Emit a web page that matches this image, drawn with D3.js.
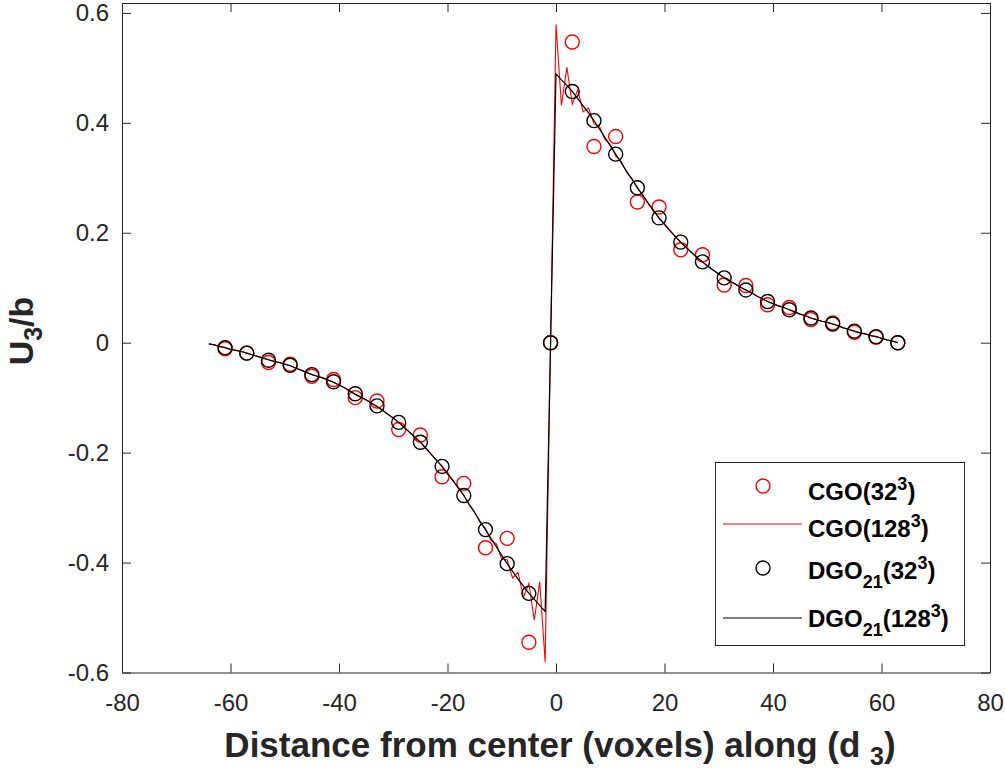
<!DOCTYPE html>
<html><head><meta charset="utf-8">
<script src="https://cdn.jsdelivr.net/npm/d3@7"></script>
<style>body{margin:0;background:#fff} svg{display:block} text{font-family:"Liberation Sans",Arial,Helvetica,sans-serif}</style>
</head><body><svg id="c" width="1005" height="772"></svg>
<script>
// ---- data ----
const xCoarse = [-61,-57,-53,-49,-45,-41,-37,-33,-29,-25,-21,-17,-13,-9,-5,-1,3,7,11,15,19,23,27,31,35,39,43,47,51,55,59,63];
const cgoCoarse = [-0.011,-0.019,-0.036,-0.039,-0.061,-0.067,-0.100,-0.106,-0.158,-0.168,-0.244,-0.256,-0.373,-0.356,-0.545,0,
  0.547,0.357,0.375,0.256,0.247,0.169,0.160,0.105,0.104,0.069,0.064,0.042,0.036,0.019,0.010,0.000];
const dgoCoarse = [-0.009,-0.019,-0.032,-0.041,-0.058,-0.071,-0.093,-0.115,-0.145,-0.181,-0.225,-0.278,-0.340,-0.402,-0.456,0,
  0.457,0.404,0.343,0.282,0.227,0.183,0.147,0.118,0.096,0.075,0.060,0.045,0.034,0.021,0.011,0.000];

const xFine = [-64,-63,-62,-61,-60,-59,-58,-57,-56,-55,-54,-53,-52,-51,-50,-49,-48,-47,-46,-45,
  -44,-43,-42,-41,-40,-39,-38,-37,-36,-35,-34,-33,-32,-31,-30,-29,-28,-27,-26,-25,
  -24,-23,-22,-21,-20,-19,-18,-17,-16,-15,-14,-13,-12,-11,-10,-9,-8,-7,-6,-5,
  -4,-3,-2,-1,
  0,1,2,3,4,5,6,7,8,9,10,11,12,13,14,15,16,17,18,19,
  20,21,22,23,24,25,26,27,28,29,30,31,32,33,34,35,36,37,38,39,
  40,41,42,43,44,45,46,47,48,49,50,51,52,53,54,55,56,57,58,59,60,61,62,63];
const dgoFine = [-0.002,-0.004,-0.007,-0.009,-0.012,-0.014,-0.016,-0.019,-0.022,-0.025,-0.028,-0.031,-0.034,-0.036,-0.039,-0.042,-0.046,-0.050,-0.054,-0.058,
  -0.061,-0.064,-0.068,-0.072,-0.077,-0.082,-0.088,-0.094,-0.099,-0.104,-0.110,-0.116,-0.123,-0.130,-0.137,-0.145,-0.154,-0.163,-0.172,-0.181,
  -0.192,-0.203,-0.214,-0.225,-0.238,-0.251,-0.264,-0.278,-0.294,-0.309,-0.325,-0.340,-0.356,-0.371,-0.387,-0.402,-0.416,-0.430,-0.443,-0.456,
  -0.467,-0.478,-0.489,0,
  0.489,0.478,0.468,0.457,0.444,0.431,0.418,0.404,0.389,0.374,0.358,0.343,0.328,0.312,0.297,0.282,0.268,0.254,0.240,0.227,
  0.215,0.204,0.193,0.183,0.173,0.164,0.155,0.147,0.139,0.132,0.125,0.118,0.112,0.107,0.101,0.096,0.091,0.085,0.080,0.075,
  0.071,0.067,0.064,0.060,0.056,0.052,0.049,0.045,0.042,0.039,0.037,0.034,0.031,0.027,0.024,0.021,0.018,0.016,0.013,0.011,0.008,0.005,0.003,0.000];
const cgoFine = [-0.002,-0.004,-0.007,-0.009,-0.012,-0.014,-0.016,-0.019,-0.022,-0.025,-0.028,-0.031,-0.034,-0.036,-0.039,-0.042,-0.046,-0.050,-0.054,-0.058,
  -0.061,-0.064,-0.068,-0.072,-0.077,-0.082,-0.088,-0.094,-0.099,-0.104,-0.110,-0.116,-0.123,-0.130,-0.137,-0.145,-0.154,-0.163,-0.172,-0.181,
  -0.192,-0.203,-0.214,-0.225,-0.239,-0.250,-0.265,-0.277,-0.295,-0.308,-0.327,-0.338,-0.359,-0.366,-0.394,-0.395,-0.428,-0.418,-0.463,-0.438,
  -0.505,-0.435,-0.581,0,
  0.579,0.432,0.501,0.434,0.460,0.420,0.427,0.398,0.394,0.370,0.361,0.340,0.330,0.310,0.299,0.281,0.269,0.253,0.241,0.226,
  0.216,0.204,0.193,0.183,0.173,0.164,0.155,0.147,0.139,0.132,0.125,0.118,0.112,0.107,0.101,0.096,0.091,0.085,0.080,0.075,
  0.071,0.067,0.064,0.060,0.056,0.052,0.049,0.045,0.042,0.039,0.037,0.034,0.031,0.027,0.024,0.021,0.018,0.016,0.013,0.011,0.008,0.005,0.003,0.000];

const xTicks = [-80,-60,-40,-20,0,20,40,60,80];
const xTickLabels = ["-80","-60","-40","-20","0","20","40","60","80"];
const yTicks = [-0.6,-0.4,-0.2,0,0.2,0.4,0.6];
const yTickLabels = ["-0.6","-0.4","-0.2","0","0.2","0.4","0.6"];

// ---- layout ----
const svg = d3.select("#c");
const L = 122, R = 990, T = 3, B = 672.5;
const x = d3.scaleLinear().domain([-80, 80]).range([L, R]);
const y = d3.scaleLinear().domain([-0.6, 0.618]).range([B, T]);
const axisCol = "#262626", tickLen = 9;

const g = svg.append("g");

svg.append("clipPath").attr("id","clip").append("rect").attr("x",L).attr("y",T).attr("width",R-L).attr("height",B-T);
const plot = g.append("g").attr("clip-path","url(#clip)");

const lineGen = d3.line().x(d => x(d[0])).y(d => y(d[1]));
const R_MARK = 7;

plot.append("g").selectAll("circle").data(xCoarse.map((v,i)=>[v,cgoCoarse[i]])).join("circle")
  .attr("cx", d=>x(d[0])).attr("cy", d=>y(d[1])).attr("r", R_MARK)
  .attr("fill","none").attr("stroke","#ff0000").attr("stroke-width",1.4);
plot.append("path").datum(xFine.map((v,i)=>[v,cgoFine[i]])).attr("d", lineGen)
  .attr("fill","none").attr("stroke","#ff0000").attr("stroke-width",1.1);
plot.append("g").selectAll("circle").data(xCoarse.map((v,i)=>[v,dgoCoarse[i]])).join("circle")
  .attr("cx", d=>x(d[0])).attr("cy", d=>y(d[1])).attr("r", R_MARK)
  .attr("fill","none").attr("stroke","#000").attr("stroke-width",1.4);
plot.append("path").datum(xFine.map((v,i)=>[v,dgoFine[i]])).attr("d", lineGen)
  .attr("fill","none").attr("stroke","#000").attr("stroke-width",1.2);

// ---- axes ----
const fmtX = (d,i) => xTickLabels[i];
const fmtY = (d,i) => yTickLabels[i];
const axB = d3.axisBottom(x).tickValues(xTicks).tickFormat(fmtX).tickSizeInner(-tickLen).tickSizeOuter(0).tickPadding(21);
const axT = d3.axisTop(x).tickValues(xTicks).tickFormat("").tickSizeInner(-tickLen).tickSizeOuter(0);
const axL = d3.axisLeft(y).tickValues(yTicks).tickFormat(fmtY).tickSizeInner(-tickLen).tickSizeOuter(0).tickPadding(13);
const axR = d3.axisRight(y).tickValues(yTicks).tickFormat("").tickSizeInner(-tickLen).tickSizeOuter(0);

function style(sel){
  sel.selectAll("path.domain").attr("stroke", axisCol).attr("stroke-width",1);
  sel.selectAll(".tick line").attr("stroke", axisCol).attr("stroke-width",1);
  sel.selectAll(".tick text").attr("fill", axisCol).style("font-size","24px").style("font-family","'Liberation Sans',Arial,sans-serif");
}
g.append("g").attr("transform",`translate(0,${B})`).call(axB).call(style);
g.append("g").attr("transform",`translate(0,${T})`).call(axT).call(style);
g.append("g").attr("transform",`translate(${L},0)`).call(axL).call(style);
g.append("g").attr("transform",`translate(${R},0)`).call(axR).call(style);

// ---- axis labels ----
const xl = g.append("text").attr("x", (L+R)/2 + 4).attr("y", 757).attr("text-anchor","middle")
  .attr("fill", axisCol).style("font-size","35px").style("font-weight","bold");
xl.append("tspan").text("Distance from center (voxels) along (d ");
xl.append("tspan").attr("dy", 8).style("font-size","25px").text("3");
xl.append("tspan").attr("dy", -8).text(")");

const yl = g.append("text").attr("transform", `translate(33,${331}) rotate(-90)`).attr("text-anchor","middle")
  .attr("fill", axisCol).style("font-size","34px").style("font-weight","bold");
yl.append("tspan").text("U");
yl.append("tspan").attr("dy", 9).style("font-size","25px").text("3");
yl.append("tspan").attr("dy", -9).text("/b");

// ---- legend ----
const lg = g.append("g");
lg.append("rect").attr("x",715.5).attr("y",462.5).attr("width",249).attr("height",183)
  .attr("fill","#fff").attr("stroke",axisCol).attr("stroke-width",1);
const entries = [
  {type:"circle", color:"#ff0000", y:486, base:"CGO", sub:null, sup:"32"},
  {type:"line", color:"#ff0000", y:524, base:"CGO", sub:null, sup:"128"},
  {type:"circle", color:"#000", y:568, base:"DGO", sub:"21", sup:"32"},
  {type:"line", color:"#000", y:618, base:"DGO", sub:"21", sup:"128"}
];
const textBase = [500, 537, 579, 627];
entries.forEach((e,i) => {
  if (e.type === "circle") {
    lg.append("circle").attr("cx",763).attr("cy",e.y).attr("r",R_MARK).attr("fill","none").attr("stroke",e.color).attr("stroke-width",1.4);
  } else {
    lg.append("line").attr("x1",723).attr("x2",802).attr("y1",e.y).attr("y2",e.y).attr("stroke",e.color).attr("stroke-width",1.2);
  }
  const t = lg.append("text").attr("x",808).attr("y",textBase[i]).attr("fill","#000").style("font-size","24px").style("font-weight","bold");
  t.append("tspan").text(e.base);
  if (e.sub) {
    t.append("tspan").attr("dy",9).style("font-size","18px").text(e.sub);
    t.append("tspan").attr("dy",-9).text("(" + e.sup);
  } else {
    t.append("tspan").text("(" + e.sup);
  }
  t.append("tspan").attr("dy",-10).style("font-size","18px").text("3");
  t.append("tspan").attr("dy",10).text(")");
});
</script></body></html>
